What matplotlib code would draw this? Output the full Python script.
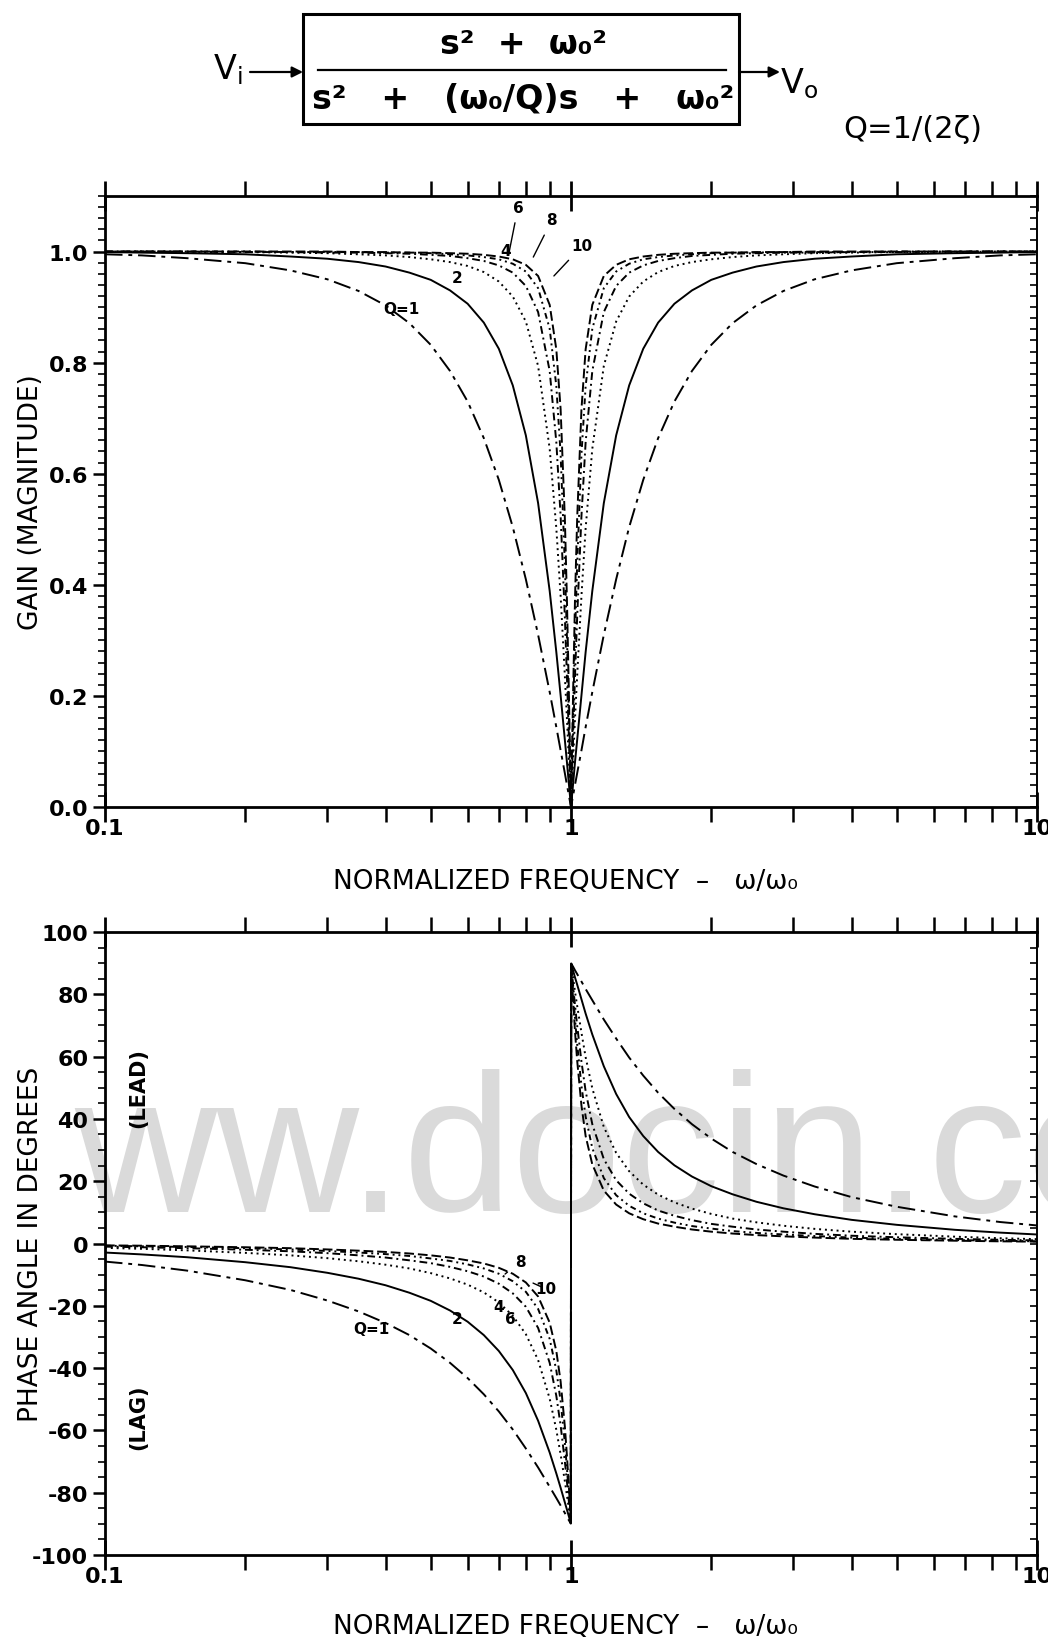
import matplotlib
matplotlib.use("Agg")
import matplotlib.pyplot as plt
from matplotlib.patches import Rectangle, FancyArrowPatch
from matplotlib.lines import Line2D
from matplotlib.ticker import FixedLocator, NullFormatter, MultipleLocator, FixedFormatter

plt.rcParams["font.family"] = ["DejaVu Sans"]
plt.rcParams["axes.unicode_minus"] = False

# normalized frequency w/w0 (both sides of the notch)
FREQ = [0.1, 0.12, 0.15, 0.2, 0.25, 0.3, 0.35, 0.4, 0.45, 0.5, 0.55, 0.6, 0.65, 0.7, 0.75,
        0.8, 0.85, 0.9, 0.93, 0.95, 0.97, 0.98, 0.99, 0.995, 0.999,
        1.0,
        1.001, 1.005, 1.01, 1.02, 1.031, 1.053, 1.075, 1.111, 1.176, 1.25, 1.333, 1.429,
        1.538, 1.667, 1.818, 2.0, 2.222, 2.5, 2.857, 3.333, 4.0, 5.0, 6.667, 8.333, 10.0]

Q_VALUES = [1, 2, 4, 6, 8, 10]

# gain
GAIN_Q1 = [0.995, 0.993, 0.988, 0.979, 0.966, 0.950, 0.929, 0.903, 0.871, 0.832, 0.785, 0.730, 0.664,
           0.589, 0.504, 0.410, 0.310, 0.207, 0.144, 0.102, 0.061, 0.040, 0.020, 0.010, 0.002,
           0.0,
           0.002, 0.010, 0.020, 0.040, 0.061, 0.102, 0.144, 0.207, 0.310, 0.410, 0.504, 0.589,
           0.664, 0.730, 0.785, 0.832, 0.871, 0.903, 0.929, 0.950, 0.966, 0.979, 0.988, 0.993, 0.995]
GAIN_Q2 = [0.999, 0.998, 0.997, 0.995, 0.991, 0.987, 0.981, 0.973, 0.962, 0.949, 0.930, 0.906, 0.872,
           0.825, 0.759, 0.669, 0.547, 0.389, 0.279, 0.201, 0.121, 0.081, 0.040, 0.020, 0.004,
           0.0,
           0.004, 0.020, 0.040, 0.081, 0.121, 0.201, 0.279, 0.389, 0.547, 0.669, 0.759, 0.825,
           0.872, 0.906, 0.930, 0.949, 0.962, 0.973, 0.981, 0.987, 0.991, 0.995, 0.997, 0.998, 0.999]
GAIN_Q4 = [1.000, 1.000, 0.999, 0.999, 0.998, 0.997, 0.995, 0.993, 0.990, 0.986, 0.981, 0.974, 0.963,
           0.946, 0.919, 0.874, 0.794, 0.645, 0.502, 0.380, 0.237, 0.160, 0.080, 0.040, 0.008,
           0.0,
           0.008, 0.040, 0.080, 0.160, 0.237, 0.380, 0.502, 0.645, 0.794, 0.874, 0.919, 0.946,
           0.963, 0.974, 0.981, 0.986, 0.990, 0.993, 0.995, 0.997, 0.998, 0.999, 0.999, 1.000, 1.000]
GAIN_Q6 = [1.000, 1.000, 1.000, 0.999, 0.999, 0.998, 0.998, 0.997, 0.996, 0.994, 0.992, 0.988, 0.983,
           0.975, 0.962, 0.938, 0.891, 0.785, 0.657, 0.524, 0.343, 0.236, 0.120, 0.060, 0.012,
           0.0,
           0.012, 0.060, 0.120, 0.236, 0.343, 0.524, 0.657, 0.785, 0.891, 0.938, 0.962, 0.975,
           0.983, 0.988, 0.992, 0.994, 0.996, 0.997, 0.998, 0.998, 0.999, 0.999, 1.000, 1.000, 1.000]
GAIN_Q8 = [1.000, 1.000, 1.000, 1.000, 0.999, 0.999, 0.999, 0.998, 0.998, 0.997, 0.995, 0.993, 0.990,
           0.986, 0.978, 0.964, 0.934, 0.861, 0.758, 0.635, 0.438, 0.308, 0.159, 0.080, 0.016,
           0.0,
           0.016, 0.080, 0.159, 0.308, 0.438, 0.635, 0.758, 0.861, 0.934, 0.964, 0.978, 0.986,
           0.990, 0.993, 0.995, 0.997, 0.998, 0.998, 0.999, 0.999, 0.999, 1.000, 1.000, 1.000, 1.000]
GAIN_Q10 = [1.000, 1.000, 1.000, 1.000, 1.000, 1.000, 0.999, 0.999, 0.998, 0.998, 0.997, 0.996, 0.994,
            0.991, 0.986, 0.976, 0.956, 0.904, 0.824, 0.716, 0.520, 0.375, 0.197, 0.100, 0.020,
            0.0,
            0.020, 0.100, 0.197, 0.375, 0.520, 0.716, 0.824, 0.904, 0.956, 0.976, 0.986, 0.991,
            0.994, 0.996, 0.997, 0.998, 0.998, 0.999, 0.999, 1.000, 1.000, 1.000, 1.000, 1.000, 1.000]

# phase (degrees), lag below 1, lead above 1
PHASE_Q1 = [-5.8, -6.9, -8.7, -11.8, -14.9, -18.3, -21.8, -25.5, -29.4, -33.7, -38.3, -43.2, -48.4,
            -53.9, -59.7, -65.8, -71.9, -78.1, -81.7, -84.1, -86.5, -87.7, -88.9, -89.4, -89.9,
            0.0,
            89.9, 89.4, 88.9, 87.7, 86.5, 84.1, 81.7, 78.1, 71.9, 65.8, 59.7, 53.9,
            48.4, 43.2, 38.3, 33.7, 29.4, 25.5, 21.8, 18.3, 14.9, 11.8, 8.7, 6.9, 5.8]
PHASE_Q2 = [-2.9, -3.5, -4.4, -6.0, -7.6, -9.4, -11.3, -13.4, -15.8, -18.4, -21.5, -25.1, -29.4,
            -34.5, -40.6, -48.0, -56.9, -67.1, -73.8, -78.4, -83.1, -85.4, -87.7, -88.9, -89.8,
            0.0,
            89.8, 88.9, 87.7, 85.4, 83.1, 78.4, 73.8, 67.1, 56.9, 48.0, 40.6, 34.5,
            29.4, 25.1, 21.5, 18.4, 15.8, 13.4, 11.3, 9.4, 7.6, 6.0, 4.4, 3.5, 2.9]
PHASE_Q4 = [-1.4, -1.7, -2.2, -3.0, -3.8, -4.7, -5.7, -6.8, -8.0, -9.5, -11.2, -13.2, -15.7,
            -18.9, -23.2, -29.1, -37.4, -49.8, -59.8, -67.7, -76.3, -80.8, -85.4, -87.7, -89.5,
            0.0,
            89.5, 87.7, 85.4, 80.8, 76.3, 67.7, 59.8, 49.8, 37.4, 29.1, 23.2, 18.9,
            15.7, 13.2, 11.2, 9.5, 8.0, 6.8, 5.7, 4.7, 3.8, 3.0, 2.2, 1.7, 1.4]
PHASE_Q6 = [-1.0, -1.2, -1.5, -2.0, -2.5, -3.1, -3.8, -4.5, -5.4, -6.3, -7.5, -8.9, -10.6,
            -12.9, -16.0, -20.3, -27.1, -38.3, -48.9, -58.4, -69.9, -76.4, -83.1, -86.6, -89.3,
            0.0,
            89.3, 86.6, 83.1, 76.4, 69.9, 58.4, 48.9, 38.3, 27.1, 20.3, 16.0, 12.9,
            10.6, 8.9, 7.5, 6.3, 5.4, 4.5, 3.8, 3.1, 2.5, 2.0, 1.5, 1.2, 1.0]
PHASE_Q8 = [-0.7, -0.9, -1.1, -1.5, -1.9, -2.4, -2.9, -3.4, -4.0, -4.8, -5.6, -6.7, -8.0,
            -9.7, -12.1, -15.5, -21.0, -30.6, -40.7, -50.6, -64.0, -72.1, -80.9, -85.4, -89.1,
            0.0,
            89.1, 85.4, 80.9, 72.1, 64.0, 50.6, 40.7, 30.6, 21.0, 15.5, 12.1, 9.7,
            8.0, 6.7, 5.6, 4.8, 4.0, 3.4, 2.9, 2.4, 1.9, 1.5, 1.1, 0.9, 0.7]
PHASE_Q10 = [-0.6, -0.7, -0.9, -1.2, -1.5, -1.9, -2.3, -2.7, -3.2, -3.8, -4.5, -5.4, -6.4,
             -7.8, -9.7, -12.5, -17.0, -25.4, -34.5, -44.3, -58.7, -68.0, -78.6, -84.3, -88.9,
             0.0,
             88.9, 84.3, 78.6, 68.0, 58.7, 44.3, 34.5, 25.4, 17.0, 12.5, 9.7, 7.8,
             6.4, 5.4, 4.5, 3.8, 3.2, 2.7, 2.3, 1.9, 1.5, 1.2, 0.9, 0.7, 0.6]

GAINS = [GAIN_Q1, GAIN_Q2, GAIN_Q4, GAIN_Q6, GAIN_Q8, GAIN_Q10]
PHASES = [PHASE_Q1, PHASE_Q2, PHASE_Q4, PHASE_Q6, PHASE_Q8, PHASE_Q10]

# curve labels: (text, label x, label y, leader end x, leader end y or None)
GAIN_LABELS = [("Q=1", 0.432, 0.897, None, None), ("2", 0.569, 0.954, None, None),
               ("4", 0.725, 1.001, None, None), ("6", 0.770, 1.080, 0.735, 0.995),
               ("8", 0.910, 1.057, 0.830, 0.990), ("10", 1.056, 1.010, 0.919, 0.956)]
PHASE_LABELS = [("Q=1", 0.372, -27.4, None, None), ("2", 0.569, -24.2, None, None),
                ("4", 0.700, -20.1, None, None), ("6", 0.740, -24.2, None, None),
                ("8", 0.777, -5.9, 0.722, -9.8), ("10", 0.884, -14.6, 0.829, -12.7)]

STYLES = [(0, (9, 3, 2, 3)), "-", (0, (1, 2)), (0, (4, 2, 1, 2)), (0, (3, 2, 1, 2, 1, 2)), (0, (5, 2))]

fig = plt.figure(figsize=(10.48, 16.4), dpi=100)

# watermark seen in the scan
fig.text(403 / 1048, 1 - 1212 / 1640, "ww.", ha="right", va="baseline", fontsize=142,
         family="Liberation Sans", color="#dadada", zorder=-5)
fig.text(403 / 1048, 1 - 1212 / 1640, "docin.com", ha="left", va="baseline", fontsize=142,
         family="Liberation Sans", color="#dadada", zorder=-5)

ax1 = fig.add_axes([0.1002, 0.5073, 0.8893, 0.3726])
ax2 = fig.add_axes([0.1002, 0.0512, 0.8893, 0.3799])

for i, q in enumerate(Q_VALUES):
    ax1.plot(FREQ, GAINS[i], color="black", lw=1.4, linestyle=STYLES[i])
    ax2.plot(FREQ, PHASES[i], color="black", lw=1.4, linestyle=STYLES[i])

for ax, labels in ((ax1, GAIN_LABELS), (ax2, PHASE_LABELS)):
    for txt, lx, ly, ex, ey in labels:
        if ex is None:
            ax.text(lx, ly, txt, ha="center", va="center", fontsize=11, fontweight="bold")
        else:
            ax.annotate(txt, xy=(ex, ey), xytext=(lx, ly), ha="center", va="center",
                        fontsize=11, fontweight="bold",
                        arrowprops=dict(arrowstyle="-", color="black", lw=1.0,
                                        shrinkA=4, shrinkB=0))

minor_x = [k * d for d in (0.1, 1.0) for k in range(2, 10)]
for ax in (ax1, ax2):
    ax.patch.set_alpha(0)
    ax.set_xscale("log")
    ax.set_xlim(0.1, 10)
    ax.xaxis.set_major_locator(FixedLocator([0.1, 1, 10]))
    ax.xaxis.set_major_formatter(FixedFormatter(["0.1", "1", "10"]))
    ax.xaxis.set_minor_locator(FixedLocator(minor_x))
    ax.xaxis.set_minor_formatter(NullFormatter())
    ax.tick_params(axis="x", which="major", direction="inout", length=22, width=2,
                   top=True, bottom=True, labelsize=16, pad=-3)
    ax.tick_params(axis="x", which="minor", direction="out", length=11, width=1.8,
                   top=True, bottom=True)
    ax.tick_params(axis="y", which="major", direction="out", length=9, width=1.8,
                   labelsize=16, pad=3)
    ax.tick_params(axis="y", which="minor", direction="out", length=5, width=1.2)
    for sp in ax.spines.values():
        sp.set_linewidth(2)
    ax.spines["right"].set_linewidth(1.2)
    ax.set_xlabel("NORMALIZED FREQUENCY  \u2013   \u03c9/\u03c9\u2080", fontsize=19)

ax1.xaxis.set_label_coords(0.494, -0.099)
ax2.xaxis.set_label_coords(0.494, -0.093)

ax1.set_ylim(0, 1.1)
ax1.yaxis.set_major_locator(FixedLocator([0.0, 0.2, 0.4, 0.6, 0.8, 1.0]))
ax1.yaxis.set_major_formatter(FixedFormatter(["0.0", "0.2", "0.4", "0.6", "0.8", "1.0"]))
ax1.yaxis.set_minor_locator(MultipleLocator(0.02))
ax1.set_ylabel("GAIN (MAGNITUDE)", fontsize=19)
ax1.yaxis.set_label_coords(-0.065, 0.5)

ax2.set_ylim(-100, 100)
ax2.yaxis.set_major_locator(MultipleLocator(20))
ax2.yaxis.set_minor_locator(MultipleLocator(5))
ax2.set_ylabel("PHASE ANGLE IN DEGREES", fontsize=19)
ax2.yaxis.set_label_coords(-0.065, 0.5)
ax2.text(0.036, 0.751, "(LEAD)", transform=ax2.transAxes, rotation=90, ha="center",
         va="center", fontsize=15, fontweight="bold")
ax2.text(0.036, 0.223, "(LAG)", transform=ax2.transAxes, rotation=90, ha="center",
         va="center", fontsize=15, fontweight="bold")

for ax in (ax1, ax2):
    for lab in ax.get_xticklabels() + ax.get_yticklabels():
        lab.set_fontweight("bold")

# small inward ticks on the right edge
for ax, step in ((ax1, 0.02), (ax2, 5)):
    sec = ax.secondary_yaxis("right")
    sec.yaxis.set_major_locator(MultipleLocator(step))
    sec.tick_params(direction="in", length=5, width=1.2, labelright=False)
    sec.spines["right"].set_linewidth(1.2)


# transfer-function block at the top
def fx(px):
    return px / 1048


def fy(py):
    return 1 - py / 1640


fig.add_artist(Rectangle((fx(303), fy(125)), fx(739) - fx(303), fy(15) - fy(125),
                         transform=fig.transFigure, fill=False, lw=2.2, color="black"))
fig.add_artist(Line2D([fx(318), fx(726)], [fy(71), fy(71)], transform=fig.transFigure,
                      color="black", lw=1.6))
fig.text(fx(523), fy(45), "s\u00b2  +  \u03c9\u2080\u00b2", ha="center", va="center",
         fontsize=24, fontweight="bold")
fig.text(fx(523), fy(99), "s\u00b2   +   (\u03c9\u2080/Q)s   +   \u03c9\u2080\u00b2", ha="center",
         va="center", fontsize=24, fontweight="bold")
fig.text(fx(228), fy(70), r"$\mathregular{V_i}$", ha="center", va="center", fontsize=24)
fig.text(fx(780), fy(84), r"$\mathregular{V_o}$", ha="left", va="center", fontsize=24)
fig.text(fx(913), fy(130), "Q=1/(2\u03b6)", ha="center", va="center", fontsize=22)
for x0, x1 in ((250, 303), (739, 780)):
    fig.add_artist(FancyArrowPatch((fx(x0), fy(73)), (fx(x1), fy(73)), transform=fig.transFigure,
                                   arrowstyle="-|>", mutation_scale=16, color="black", lw=1.6,
                                   shrinkA=0, shrinkB=0))

fig.savefig("out.png", dpi=100)
